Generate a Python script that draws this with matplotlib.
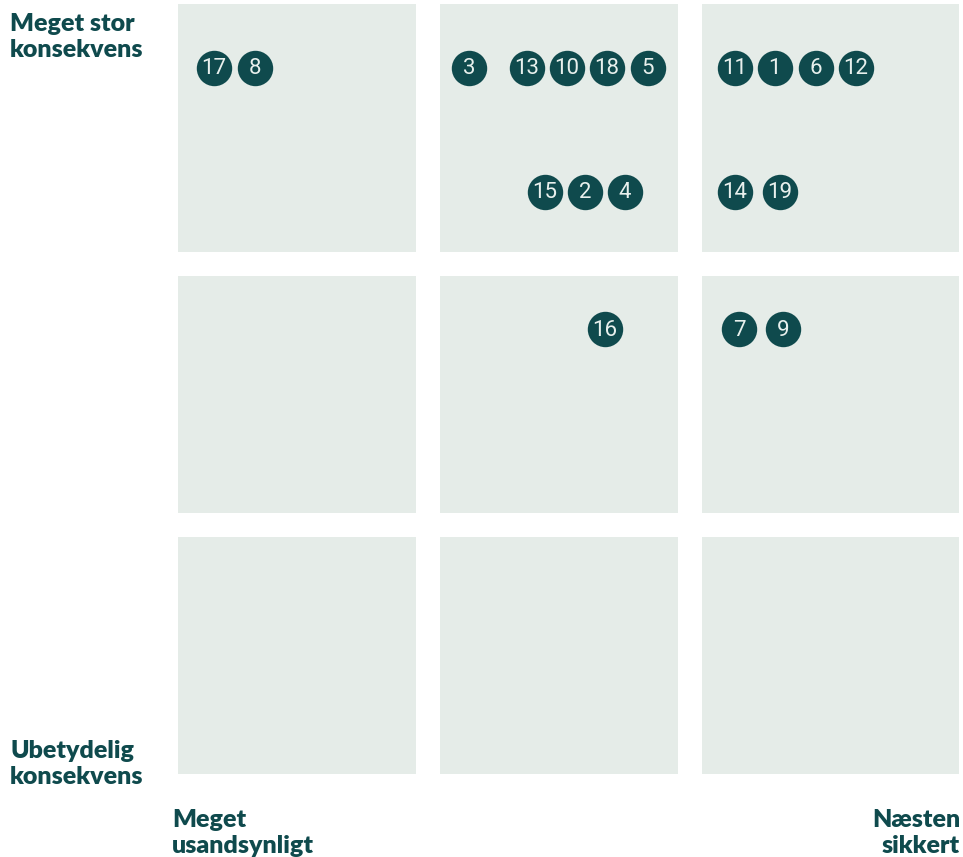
import matplotlib.pyplot as plt
from matplotlib.patches import Rectangle

# risk id, likelihood (x) and consequence (y) on a 0-3 grid
ids = [17, 8, 3, 13, 10, 18, 5, 15, 2, 4, 11, 1, 6, 12, 14, 19, 7, 9, 16]
likelihood = [0.183, 0.340, 1.156, 1.378, 1.531, 1.683, 1.840, 1.447, 1.599, 1.752,
              2.172, 2.324, 2.481, 2.634, 2.172, 2.344, 2.187, 2.355, 1.676]
consequence = [2.751, 2.751, 2.751, 2.751, 2.751, 2.751, 2.751, 2.276, 2.276, 2.276,
               2.751, 2.751, 2.751, 2.751, 2.276, 2.276, 1.751, 1.751, 1.751]

dark = '#0f4a4d'
cellc = '#e5ece8'

fig = plt.figure(figsize=(9.63, 8.57), dpi=100)
ax = fig.add_axes([166/963, 71/857, 793/963, 782/857])
ax.set_xlim(0, 3.027)
ax.set_ylim(0, 2.996)
ax.axis('off')

gap = 0.0458
for i in range(3):
    for j in range(3):
        w = 1 - 2*gap + (0.5 if i == 2 else 0)
        h = 1 - 2*gap + (0.5 if j == 2 else 0)
        ax.add_patch(Rectangle((i + gap, j + gap), w, h, color=cellc, lw=0, zorder=1))

ax.scatter(likelihood, consequence, s=650, color=dark, zorder=3, lw=0)
for n, x, y in zip(ids, likelihood, consequence):
    ax.text(x, y - 0.004, str(n), ha='center', va='center', color='#e8f0ed',
            fontsize=16, family='Roboto', fontweight='normal', zorder=4)

lab = dict(color=dark, fontsize=18, fontweight='heavy', family='Lato',
           linespacing=1.2)
fig.text(10/963, 1 - 13/857, 'Meget stor\nkonsekvens', ha='left', va='top', **lab)
fig.text(10/963, 1 - 740/857, 'Ubetydelig\nkonsekvens', ha='left', va='top', **lab)
fig.text(172/963, 1 - 809/857, 'Meget\nusandsynligt', ha='left', va='top', **lab)
fig.text(960/963, 1 - 809/857, 'Næsten\nsikkert', ha='right', va='top',
         multialignment='right', **lab)

fig.savefig('out.png', dpi=100)
